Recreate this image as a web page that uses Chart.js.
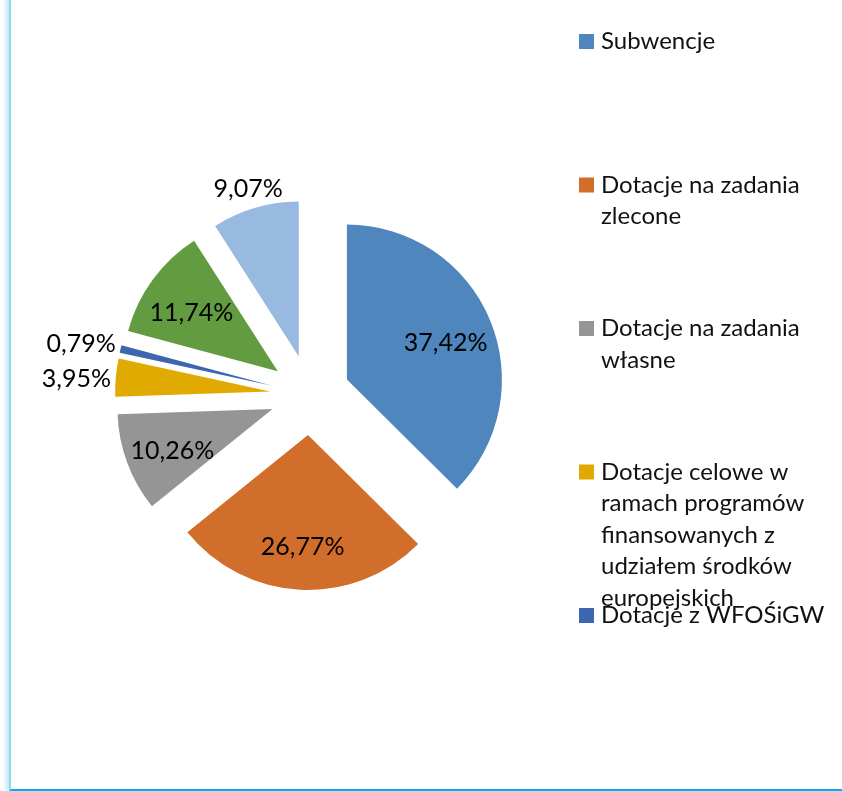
<!DOCTYPE html>
<html lang="pl">
<head>
<meta charset="utf-8">
<title>Struktura dotacji</title>
<script src="https://cdn.jsdelivr.net/npm/chart.js@4/dist/chart.umd.min.js"></script>
<style>
  html, body { margin: 0; padding: 0; background: #fff; }
  #wrap { position: relative; width: 842px; height: 791px; overflow: hidden; }
  #frame {
    position: absolute; left: 9px; top: -4px; width: 840px; height: 795px;
    box-sizing: border-box;
    border-left: 2px solid #8fdaf5;
    border-bottom: 2px solid #00b0f0;
    box-shadow: -3px 0 4px rgba(0, 160, 230, 0.25);
  }
  canvas { position: absolute; left: 0; top: 0; }
</style>
</head>
<body>
<div id="wrap">
  <canvas id="chartDotacje" width="842" height="791"></canvas>
  <div id="frame"></div>
</div>
<script>
// dane (udział w %)
const categories = [
  'Subwencje',
  'Dotacje na zadania zlecone',
  'Dotacje na zadania własne',
  'Dotacje celowe w ramach programów finansowanych z udziałem środków europejskich',
  'Dotacje z WFOŚiGW',
  'Dochody własne',
  'Pozostałe dochody'
];
const shares = [37.42, 26.77, 10.26, 3.95, 0.79, 11.74, 9.07];

const sliceColors = ['#4f86bd', '#d26e2b', '#959595', '#e1aa00', '#3d66af', '#629b40', '#98b9e0'];
const labelOutside = [false, false, false, true, true, false, true];
const legendCount = 5; // tylko 5 pozycji legendy mieści się w ramce

const EXPLODE = 40;

function formatPct(v) {
  return v.toFixed(2).replace('.', ',') + '%';
}

function wrapText(ctx, text, maxWidth) {
  const words = text.split(' ');
  const lines = [];
  let line = '';
  words.forEach(w => {
    const test = line ? line + ' ' + w : w;
    if (line && ctx.measureText(test).width > maxWidth) {
      lines.push(line);
      line = w;
    } else {
      line = test;
    }
  });
  if (line) lines.push(line);
  return lines;
}

// rozsunięte wycinki
const explodePlugin = {
  id: 'explode',
  beforeDatasetDraw(chart, args) {
    const ctx = chart.ctx;
    args.meta.data.forEach(arc => {
      const mid = (arc.startAngle + arc.endAngle) / 2;
      ctx.save();
      ctx.translate(Math.cos(mid) * EXPLODE, Math.sin(mid) * EXPLODE);
      arc.draw(ctx);
      ctx.restore();
    });
    return false;
  }
};

// etykiety procentowe
const labelsPlugin = {
  id: 'pctLabels',
  afterDatasetsDraw(chart) {
    const ctx = chart.ctx;
    const arcs = chart.getDatasetMeta(0).data;
    ctx.save();
    ctx.font = '25px Lato';
    ctx.fillStyle = '#000';
    ctx.textAlign = 'center';
    ctx.textBaseline = 'middle';
    arcs.forEach((arc, i) => {
      const mid = (arc.startAngle + arc.endAngle) / 2;
      const cos = Math.cos(mid);
      const sin = Math.sin(mid);
      const text = formatPct(shares[i]);
      let d;
      if (labelOutside[i]) {
        const w = ctx.measureText(text).width;
        d = arc.outerRadius + 4 + Math.abs(cos) * w / 2 + Math.abs(sin) * 12;
      } else {
        d = arc.outerRadius * 0.69;
      }
      ctx.fillText(text, arc.x + cos * (EXPLODE + d), arc.y + sin * (EXPLODE + d) + 5);
    });
    ctx.restore();
  }
};

// legenda po prawej, z zawijaniem tekstu
const legendPlugin = {
  id: 'sideLegend',
  afterDraw(chart) {
    const ctx = chart.ctx;
    const labels = chart.data.labels;
    const colors = chart.data.datasets[0].backgroundColor;
    ctx.save();
    ctx.font = '24px Lato';
    ctx.textAlign = 'left';
    ctx.textBaseline = 'middle';
    for (let i = 0; i < legendCount; i++) {
      const y0 = 41.5 + i * 143.5;
      ctx.fillStyle = colors[i];
      ctx.fillRect(579, y0 - 7.5, 15, 15);
      ctx.fillStyle = '#111';
      wrapText(ctx, labels[i], 235).forEach((line, k) => {
        ctx.fillText(line, 601, y0 + k * 31.5);
      });
    }
    ctx.restore();
  }
};

new Chart(document.getElementById('chartDotacje'), {
  type: 'pie',
  data: {
    labels: categories,
    datasets: [{
      data: shares,
      backgroundColor: sliceColors,
      borderWidth: 0
    }]
  },
  options: {
    responsive: false,
    animation: false,
    radius: 155,
    layout: { padding: { left: 0, right: 222, top: 0, bottom: 1 } },
    plugins: {
      legend: { display: false },
      tooltip: { enabled: false }
    }
  },
  plugins: [explodePlugin, labelsPlugin, legendPlugin]
});
</script>
</body>
</html>
